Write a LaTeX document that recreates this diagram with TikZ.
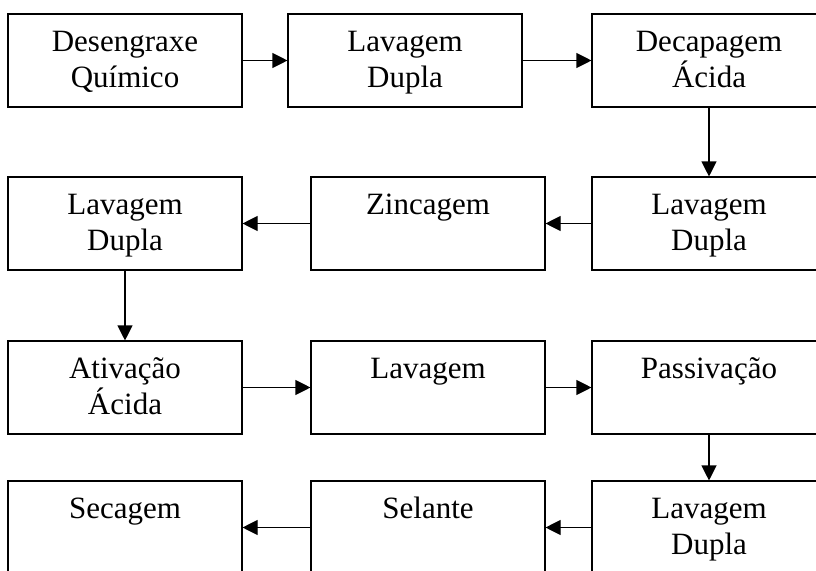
\documentclass[tikz,border=0pt]{standalone}
\usepackage{fontspec}
\setmainfont{Liberation Serif}
\usetikzlibrary{arrows.meta}
\tikzset{
  stepbox/.style={draw, line width=1.1pt, rectangle, inner sep=0pt, minimum width=234pt, minimum height=93pt},
  lbl/.style={anchor=base, inner sep=0pt, font=\fontsize{31pt}{36pt}\selectfont},
  conn/.style={line width=1.1pt, -{Triangle[length=15pt,width=15pt]}}
}
\begin{document}
\begin{tikzpicture}[x=1pt,y=1pt]
\useasboundingbox (0,0) rectangle (816,-570);
% row 1 (top 14)
\node[stepbox] (b1) at (125,-60.5) {};
\node[stepbox] (b2) at (405,-60.5) {};
\node[stepbox] (b3) at (709,-60.5) {};
% row 2 (top 177)
\node[stepbox] (b4) at (709,-223.5) {};
\node[stepbox] (b5) at (428,-223.5) {};
\node[stepbox] (b6) at (125,-223.5) {};
% row 3 (top 342)
\node[stepbox] (b7) at (125,-387.5) {};
\node[stepbox] (b8) at (428,-387.5) {};
\node[stepbox] (b9) at (709,-387.5) {};
% row 4 (top 481)
\node[stepbox] (b10) at (709,-527.5) {};
\node[stepbox] (b11) at (428,-527.5) {};
\node[stepbox] (b12) at (125,-527.5) {};
% labels
\node[lbl] (t1a) at ([yshift=-38pt]b1.north) {Desengraxe};
\node[lbl] (t1b) at ([yshift=-74pt]b1.north) {Químico};
\node[lbl] (t2a) at ([yshift=-38pt]b2.north) {Lavagem};
\node[lbl] (t2b) at ([yshift=-74pt]b2.north) {Dupla};
\node[lbl] (t3a) at ([yshift=-38pt]b3.north) {Decapagem};
\node[lbl] (t3b) at ([yshift=-74pt]b3.north) {Ácida};
\node[lbl] (t4a) at ([yshift=-38pt]b4.north) {Lavagem};
\node[lbl] (t4b) at ([yshift=-74pt]b4.north) {Dupla};
\node[lbl] (t5a) at ([yshift=-38pt]b5.north) {Zincagem};
\node[lbl] (t6a) at ([yshift=-38pt]b6.north) {Lavagem};
\node[lbl] (t6b) at ([yshift=-74pt]b6.north) {Dupla};
\node[lbl] (t7a) at ([yshift=-38pt]b7.north) {Ativação};
\node[lbl] (t7b) at ([yshift=-74pt]b7.north) {Ácida};
\node[lbl] (t8a) at ([yshift=-38pt]b8.north) {Lavagem};
\node[lbl] (t9a) at ([yshift=-38pt]b9.north) {Passivação};
\node[lbl] (t10a) at ([yshift=-38pt]b10.north) {Lavagem};
\node[lbl] (t10b) at ([yshift=-74pt]b10.north) {Dupla};
\node[lbl] (t11a) at ([yshift=-38pt]b11.north) {Selante};
\node[lbl] (t12a) at ([yshift=-38pt]b12.north) {Secagem};
% connectors
\draw[conn] (b1.east) -- (b2.west);
\draw[conn] (b2.east) -- (b3.west);
\draw[conn] (b3.south) -- (b4.north);
\draw[conn] (b4.west) -- (b5.east);
\draw[conn] (b5.west) -- (b6.east);
\draw[conn] (b6.south) -- (b7.north);
\draw[conn] (b7.east) -- (b8.west);
\draw[conn] (b8.east) -- (b9.west);
\draw[conn] (b9.south) -- (b10.north);
\draw[conn] (b10.west) -- (b11.east);
\draw[conn] (b11.west) -- (b12.east);
\end{tikzpicture}
\end{document}
